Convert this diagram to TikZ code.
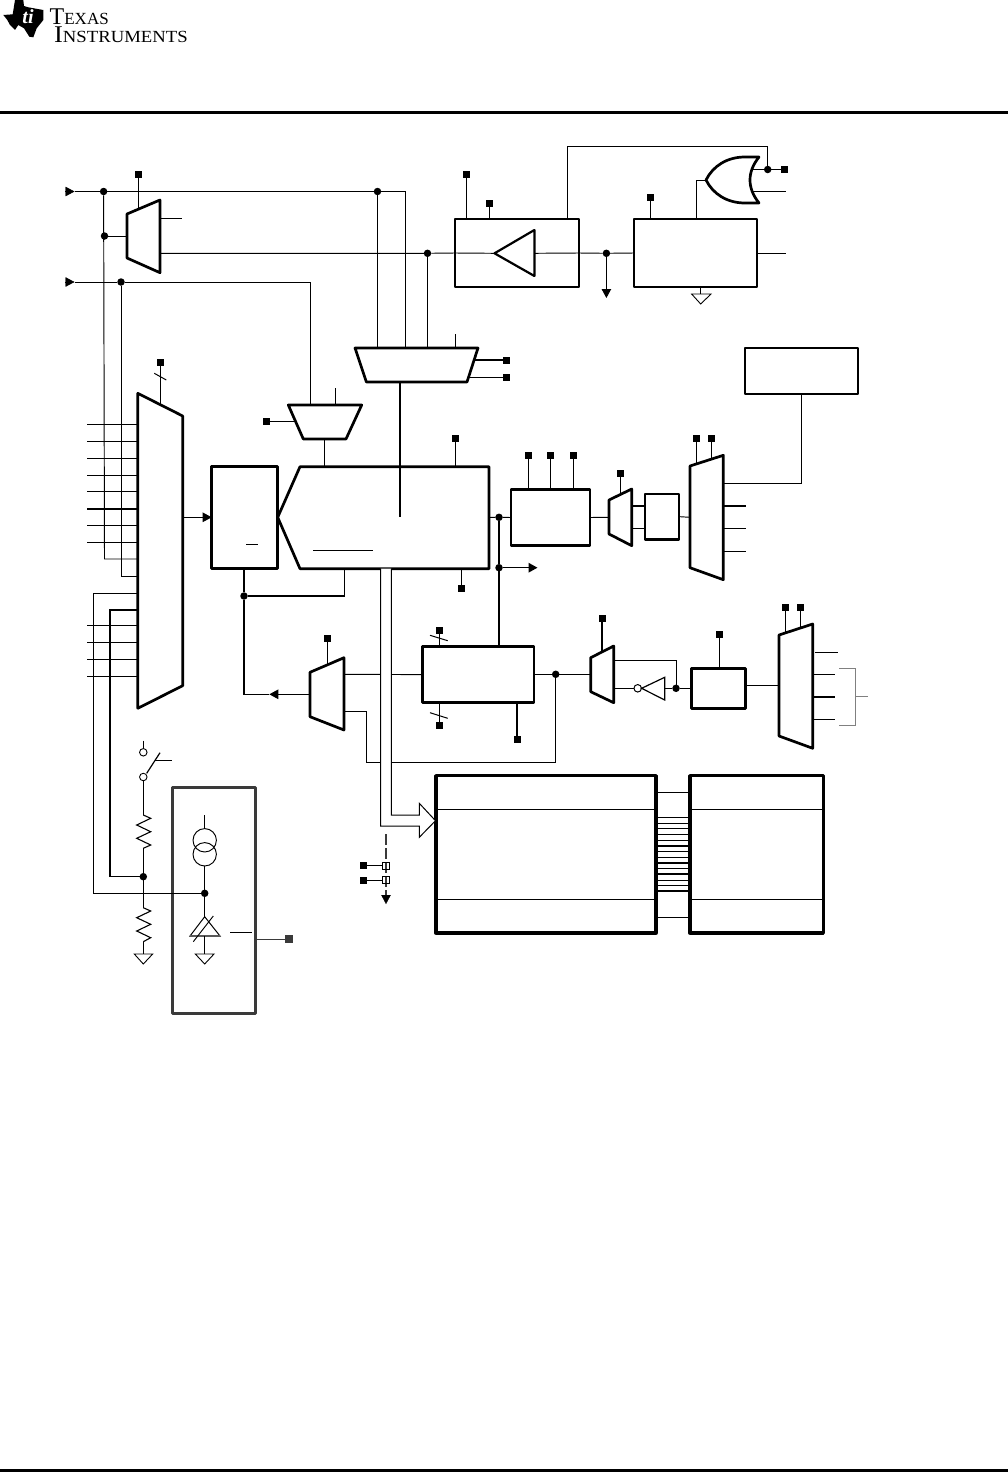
\documentclass[tikz,border=0pt]{standalone}
\usepackage{fontspec}
\usepackage{graphicx}
\setmainfont{Liberation Serif}
\usetikzlibrary{arrows.meta}
\definecolor{dk}{HTML}{3A3A3A}
\tikzset{
  thinw/.style={line width=0.95pt},
  medw/.style={line width=1.5pt},
  heavy/.style={line width=2.7pt,line join=round},
  heavier/.style={line width=3.3pt,line join=round},
  blk/.style={draw,heavy,inner sep=0pt,outer sep=0pt},
  mem/.style={draw,heavier,inner sep=0pt,outer sep=0pt},
  padn/.style={fill=black,inner sep=0pt,outer sep=0pt,minimum width=7pt,minimum height=7pt},
  dot/.style={circle,fill=black,inner sep=0pt,outer sep=0pt,minimum size=7.5pt},
  ring/.style={circle,draw,fill=white,line width=1pt,inner sep=0pt,outer sep=0pt,minimum size=7.5pt},
  tip/.style={-{Triangle[length=9pt,width=9.5pt]}},
  gnd/.style={draw,line width=0.9pt,line join=miter},
}
\newcount\stubn
% \stub[style]{x1}{y1}{x2}{y2}: a short wire with named free ends
\newcommand\stub[5][thinw]{\global\advance\stubn by 1
  \coordinate (s\the\stubn a) at (#2,#3);
  \coordinate (s\the\stubn b) at (#4,#5);
  \draw[#1] (s\the\stubn a) -- (s\the\stubn b);}
% \pad[style]{name}{x}{y}{endx}{endy}
\newcommand\pad[6][thinw]{\node[padn] (#2) at (#3,#4) {};
  \coordinate (#2e) at (#5,#6);
  \draw[#1] (#2) -- (#2e);}
% \bx[style]{name}{x1}{y1}{x2}{y2}
\newcommand\bx[6][blk]{\pgfmathsetmacro\bw{#5-#3}\pgfmathsetmacro\bh{#6-#4}
  \pgfmathsetmacro\bcx{(#3+#5)/2}\pgfmathsetmacro\bcy{(#4+#6)/2}
  \node[#1,minimum width=\bw pt,minimum height=\bh pt] (#2) at (\bcx,\bcy) {};}
\begin{document}
\begin{tikzpicture}[x=1pt,y=-1pt]
\useasboundingbox (0,0) rectangle (1008,1472);
% logo
\fill (3.3,15) -- (12.7,14.3) -- (15,0) -- (23.3,0) -- (24,6) -- (28.3,7.3) -- (43.3,10) -- (43.3,20) -- (36.7,28.3) -- (33.3,37.3) -- (29.3,36.7) -- (24,28.3) -- (18.3,25) -- (15,30) -- (10,25) -- (7.3,20) -- cycle;
\node[white,inner sep=0pt,font=\bfseries\itshape\fontsize{20}{20}\selectfont] (tiglyph) at (28,17) {\textit{ti}};
\node[anchor=base west,inner sep=0pt,font=\fontsize{24}{24}\selectfont] (texas) at (49.5,24.5) {T{\fontsize{17}{17}\selectfont EXAS}};
\node[anchor=base west,inner sep=0pt,font=\fontsize{24}{24}\selectfont] (instr) at (54,43) {\scalebox{1.1}[1]{I{\fontsize{17}{17}\selectfont NSTRUMENTS}}};
\coordinate (ruleL) at (0,112.5); \coordinate (ruleR) at (1008,112.5);
\draw[line width=3pt] (ruleL) -- (ruleR);
\coordinate (footL) at (0,1470.4); \coordinate (footR) at (1008,1470.4);
\draw[line width=3.2pt] (footL) -- (footR);

% ---- blocks
\bx{boxB}{455}{219}{579}{287}
\bx{boxPLL}{634}{219}{757}{287}
\bx{boxD}{745}{348}{858}{394}
\bx{boxG}{211.7}{466.7}{277.7}{568.7}
\bx{boxK}{422.3}{646.5}{534}{702.7}
\bx{boxL}{511}{489.3}{590}{545.7}
\bx{boxN}{645}{494}{679}{539.3}
\bx{boxQ}{691.3}{668.3}{745.7}{708.3}
\bx[mem]{memT}{436}{775.7}{656}{933}
\bx[mem]{memU}{690}{775.7}{823.3}{933}
\bx[blk,draw=dk]{boxS}{172.3}{787.3}{255.7}{1013.7}

% ---- junctions
\node[dot] (jA) at (103.6,191.5) {};
\node[dot] (jB) at (104.5,236) {};
\node[dot] (jC) at (121,282) {};
\node[dot] (jD) at (377.5,191.5) {};
\node[dot] (jE) at (427.5,253.3) {};
\node[dot] (jF) at (606.4,253.3) {};
\node[dot] (jG) at (767.7,169.5) {};
\node[dot] (jH) at (244,596) {};
\node[dot] (jI) at (499,517.3) {};
\node[dot] (jJ) at (499,567.7) {};
\node[dot] (jK) at (555.7,674.3) {};
\node[dot] (jL) at (676,688.3) {};
\node[dot] (jM) at (143.3,876.7) {};
\node[dot] (jN) at (204.7,893.3) {};

% ---- muxes
\coordinate (mAout1) at (160,218.3); \coordinate (mAout2) at (160,253.3); \coordinate (mAin) at (127,236);
\draw[heavy] (127,214) -- (160,200) -- (160,272.7) -- (127,258) -- cycle;
\coordinate (mCi1) at (377.5,348); \coordinate (mCi2) at (405,348); \coordinate (mCi3) at (427.5,348);
\coordinate (mCout) at (400,382);
\draw[heavy] (355,348) -- (478,348) -- (467,382) -- (366.4,382) -- cycle;
\coordinate (mEin) at (310.3,405); \coordinate (mEout) at (324.7,439);
\draw[heavy] (288.3,405) -- (361.7,405) -- (346,439) -- (303.3,439) -- cycle;
\draw[heavy] (137.8,393.3) -- (182.7,416) -- (182.7,685.7) -- (137.8,708.3) -- cycle;
\coordinate (mFl) at (137.8,559); \coordinate (mFr) at (182.7,517.3);
\draw[heavy] (310,672.3) -- (344,657.7) -- (344,730) -- (310,716.7) -- cycle;
\coordinate (mJl) at (310,694.3);
\draw[heavy] (609,500) -- (631.7,489) -- (631.7,545.7) -- (609,534) -- cycle;
\draw[heavy] (690,466) -- (723.3,455.3) -- (723.3,579.7) -- (690,567.7) -- cycle;
\draw[heavy] (590.7,657.7) -- (613.7,646) -- (613.7,702.7) -- (590.7,691.7) -- cycle;
\draw[heavy] (779,635) -- (812.7,624) -- (812.7,748.3) -- (779,736) -- cycle;

% main hexagon
\node[inner sep=0pt,outer sep=0pt] (hexH) at (389,517.3) {};
\coordinate (hTip) at (277.7,517.3);
\draw[heavy] (hTip) -- (300,466.7) -- (489,466.7) -- (489,568.7) -- (300,568.7) -- cycle;
\stub{313.3}{550.3}{372.7}{550.3}
\stub{246}{544.3}{258}{544.3}

% ---- top wires
\coordinate (in1) at (65,191.5); \coordinate (in1b) at (74.5,191.5);
\draw[tip] (in1) -- (in1b);
\draw[thinw] (in1b) -- (jA) -- (jD) -| (mCi2);
\draw[thinw] (jD) -- (mCi1);
\coordinate (in2) at (65,282); \coordinate (in2b) at (74.5,282);
\draw[tip] (in2) -- (in2b);
\draw[thinw] (in2b) -- (jC) -| (mEin);
\draw[thinw] (jA) -- (mFl -| jB) -- (mFl);
\coordinate (mFl2) at (137.8,576);
\draw[thinw] (jC) -- (mFl2 -| jC) -- (mFl2);
\draw[thinw] (jB) -- (mAin);
\stub{160}{218.3}{181.5}{218.3}
\draw[thinw] (mAout2) -- (jE) -- (boxB.west);
\draw[thinw] (jE) -- (mCi3);
\pad{pA}{138}{174.5}{138}{208}
\pad{pC1}{466.8}{174}{466.8}{219}
\pad{pC2}{489.4}{203}{489.4}{219}
\pad{pPLL}{650.3}{197}{650.3}{219}
% buffer triangle
\coordinate (bufIn) at (494.5,253.3); \coordinate (bufOut) at (534.4,253.3);
\draw[heavy,line width=2.2pt] (bufIn) -- (534.4,230) -- (534.4,276) -- cycle;
\draw[thinw] (boxB.west) -- (bufIn);
\draw[thinw] (bufOut) -- (boxB.east) -- (jF) -- (boxPLL.west);
\coordinate (fDown) at (606.4,298);
\draw[thinw,tip] (jF) -- (fDown);
\coordinate (bTop) at (567.5,219);
\draw[thinw] (bTop) |- (567.5,146) -| (jG);
% OR gate
\coordinate (orTip) at (706,180);
\draw[heavy] (orTip) .. controls (713,166) and (727,157) .. (745,157) -- (759,157)
  .. controls (747,172) and (747,188) .. (759,203) -- (745,203)
  .. controls (727,203) and (713,194) .. (orTip) -- cycle;
\coordinate (plTop) at (696,219);
\draw[thinw] (plTop) |- (orTip);
\node[padn] (pOr) at (784.5,169.5) {};
\coordinate (orO1) at (752.5,169.5);
\draw[thinw] (orO1) -- (jG) -- (pOr);
\stub{752.5}{191.5}{785.6}{191.5}
\stub{757}{253.3}{785.6}{253.3}
% ground PLL
\coordinate (gP) at (700.7,294);
\draw[thinw] (boxPLL.south -| gP) -- (gP);
\draw[gnd] (691.6,294) -- (711,294) -- (700.7,304) -- cycle;

% mux C pads
\pad[medw]{pM1}{506}{360}{473}{360}
\pad{pM2}{506}{377}{468}{377}
\stub{455.3}{334}{455.3}{348}
\draw[medw] (mCout) -- (mCout |- hTip -| 400,466.7);
\coordinate (hTop) at (400,466.7);
\draw[medw] (mCout) -- (hTop);
\pad{pE}{266.7}{421.7}{295}{421.7}
\stub{335.3}{388}{335.3}{405}
\coordinate (hTop2) at (324.7,466.7);
\draw[thinw] (mEout) -- (hTop2);

% mux F
\pad[medw]{pF}{160.7}{362.3}{160.7}{404}
\stub[line width=1pt]{154.3}{373.3}{166.3}{380}
\foreach \yy in {424.3,441.3,458.3,475.3,525.3,542.3,625.3,642.3,659.3,676.3}{\stub{87}{\yy}{137.8}{\yy}}
\foreach \yy in {491.7,509}{\stub[medw]{87}{\yy}{137.8}{\yy}}
\coordinate (fa) at (137.8,593.3);
\draw[thinw] (fa) -| (93.7,893.3) -- (jN);
\coordinate (fb) at (137.8,610);
\draw[medw] (fb) -| (110,876.7) -- (jM);
\draw[thinw,tip] (mFr) -- (boxG.west |- mFr);

% G / H links
\coordinate (gb) at (244,568.7);
\draw[medw] (gb) -- (jH);
\coordinate (hB) at (344.7,568.7);
\draw[medw] (jH) -| (hB);
\coordinate (arJ) at (269.3,694.3);
\draw[medw] (jH) |- (arJ);
\draw[tip,thinw] (mJl) -- (arJ);
\pad{pHt}{455.7}{438.7}{455.7}{466.7}
\pad{pHb}{461.7}{588.3}{461.7}{568.7}

% right of H
\coordinate (hR) at (489,517.3);
\draw[thinw] (hR) -- (jI) -- (boxL.west);
\draw[medw] (jI) -- (jJ);
\draw[medw] (jJ) -- (boxK.north -| jJ);
\coordinate (jOut) at (537.5,567.7);
\draw[medw,tip] (jJ) -- (jOut);
\pad[medw]{pL1}{528.3}{455.7}{528.3}{489.3}
\pad{pL2}{550.3}{455.7}{550.3}{489.3}
\pad{pL3}{573}{455.7}{573}{489.3}
\coordinate (mMl) at (609,517.3);
\draw[thinw] (boxL.east) -- (mMl);
\pad{pMM}{620.3}{473.3}{620.3}{494}
\stub[medw]{631.7}{506}{645}{506}
\stub{631.7}{528.7}{645}{528.7}
\coordinate (mOl) at (690,517.3);
\draw[thinw] (boxN.east) -- (mOl);
\pad{pO1}{696.7}{438.3}{696.7}{464}
\pad{pO2}{711.3}{438.3}{711.3}{459.5}
\coordinate (mOr) at (723.3,483.3);
\draw[thinw] (boxD.south) |- (mOr);
\stub[medw]{723.3}{506}{746}{506}
\stub{723.3}{528.7}{746}{528.7}
\stub{723.3}{551.7}{746}{551.7}

% mux J pad and outputs
\pad[medw]{pJ}{327.3}{638.3}{327.3}{665}
\coordinate (jr1) at (344,674.3);
\draw[thinw] (jr1) -- (boxK.west);
\coordinate (jr2) at (344,711.7);
\draw[thinw] (jr2) -| (366.7,762.3) -| (jK);

% box K
\pad{pK1}{439.3}{630}{439.3}{646.5}
\stub[line width=1pt]{430}{635.3}{447.7}{640.7}
\pad{pK2}{439}{725.3}{439}{702.7}
\stub[line width=1pt]{430}{712.7}{447.7}{718.3}
\pad[medw]{pK3}{517}{739.3}{517}{702.7}
\coordinate (mPl) at (590.7,674.3);
\draw[thinw] (boxK.east |- jK) -- (jK) -- (mPl);

% hollow bus arrow
\draw[line width=1pt,fill=white,line join=miter] (380.7,568.7) -- (380.7,826) -- (419.3,826) -- (419.3,837.3) -- (435.5,820.7) -- (419.3,803.3) -- (419.3,815) -- (391.4,815) -- (391.4,568.7);

% mux P
\pad[medw]{pP}{602}{618.3}{602}{651}
\coordinate (pr1) at (613.7,660.3);
\draw[thinw] (pr1) -| (jL);
\coordinate (pr2) at (613.7,688.3);
\node[ring] (bub) at (637.7,688.3) {};
\draw[thinw] (pr2) -- (bub);
\draw[line width=1.2pt,line join=miter] (641.6,688.3) -- (664.7,677.3) -- (664.7,700) -- cycle;
\coordinate (invB) at (664.7,688.3);
\draw[thinw] (invB) -- (jL) -- (boxQ.west |- jL);
\pad{pQ}{719.3}{634}{719.3}{668.3}
\coordinate (mRl) at (779,685.3);
\draw[thinw] (boxQ.east |- mRl) -- (mRl);
\pad{pR1}{785.3}{607.3}{785.3}{633}
\pad{pR2}{800.3}{607.3}{800.3}{628.5}
\stub{815}{652.3}{837.7}{652.3}
\stub{812.7}{674.3}{835}{674.3}
\stub[medw]{812.7}{697}{835}{697}
\stub{812.7}{719.7}{835}{719.7}
\coordinate (brA) at (839.3,668.3); \coordinate (brB) at (839.3,725); \coordinate (brC) at (868.3,696.7); \coordinate (brM) at (855.3,696.7);
\draw[gray,line width=0.95pt] (brA) -| (brM) |- (brB);
\draw[gray,line width=0.95pt] (brM) -- (brC);

% switch & resistors
\stub{143.3}{740.7}{143.3}{748.5}
\node[ring,line width=0.9pt] (swA) at (143.3,752.3) {};
\node[ring,line width=0.9pt] (swB) at (143.3,777) {};
\stub[line width=1.2pt]{146.7}{773.3}{160}{752.7}
\stub[line width=1.3pt]{155}{760.7}{171.7}{760.7}
\coordinate (rA1) at (143.3,815); \coordinate (rA2) at (143.3,848.3);
\draw[thinw] (swB) -- (rA1);
\draw[line width=1.1pt,line join=miter] (rA1) -- (150.7,818.3) -- (136.7,825) -- (150.7,831.7) -- (136.7,838.3) -- (150.7,845) -- (rA2);
\draw[thinw] (rA2) -- (jM);
\coordinate (rB1) at (143.3,907.7); \coordinate (rB2) at (143.3,941.7);
\draw[thinw] (jM) -- (rB1);
\draw[line width=1.1pt,line join=miter] (rB1) -- (150.7,911) -- (136.7,917.7) -- (150.7,924.3) -- (136.7,931) -- (150.7,937.7) -- (rB2);
\coordinate (gA) at (143.3,954);
\draw[thinw] (rB2) -- (gA);
\draw[gnd] (134.3,954) -- (152.7,954) -- (143.3,964) -- cycle;

% inside S
\stub{204.7}{815.3}{204.7}{829}
\node[circle,draw,line width=0.95pt,minimum size=23.4pt,inner sep=0pt,outer sep=0pt] (csA) at (204.7,840.3) {};
\node[circle,draw,line width=0.95pt,minimum size=23.4pt,inner sep=0pt,outer sep=0pt] (csB) at (204.7,854.3) {};
\draw[thinw] (csB.south) -- (jN);
\coordinate (dA) at (204.7,916.7); \coordinate (dB) at (204.7,936); \coordinate (gB) at (204.7,954);
\draw[thinw] (jN) -- (dA);
\draw[line width=1pt,line join=miter] (dA) -- (220,936) -- (190,936) -- cycle;
\draw[medw,gray!70!black] (190,936) -- (220,936);
\stub{193.3}{941.7}{213.3}{916}
\draw[thinw] (dB) -- (gB);
\draw[gnd] (195.3,954) -- (214,954) -- (204.7,964) -- cycle;
\stub{230}{932.3}{252}{932.3}
\node[padn,fill=dk,minimum width=8pt,minimum height=8pt] (pS) at (289,939.3) {};
\coordinate (sR) at (256.7,939.3);
\draw[thinw,dk] (sR) -- (pS);

% dashed drop
\coordinate (dashT) at (386,834); \coordinate (dashB) at (386,896);
\draw[dk,line width=1.4pt,dash pattern=on 11pt off 3pt] (dashT) -- (dashB);
\coordinate (dashTip) at (386,904);
\draw[-{Triangle[length=9pt,width=9.5pt]},line width=0.1pt] (dashB) -- (dashTip);
\node[draw,line width=0.8pt,minimum size=6.5pt,inner sep=0pt,outer sep=0pt] (sq1) at (386,865.7) {};
\node[draw,line width=0.8pt,minimum size=6.5pt,inner sep=0pt,outer sep=0pt] (sq2) at (386,880) {};
\node[padn] (pD1) at (363.3,865.7) {};
\node[padn] (pD2) at (363.3,880) {};
\draw[thinw] (pD1) -- (sq1);
\draw[thinw] (pD2) -- (sq2);

% memory divisions and bus
\foreach \m in {memT,memU}{
  \foreach \yy in {809.3,899.3}{
    \coordinate (l1) at (\m.west |- 0,\yy); \coordinate (l2) at (\m.east |- 0,\yy);
    \draw[thinw] (l1) -- (l2);}}
\foreach \yy in {792.3,823.3,834.3,840,851.7,857.3,868.3,880,885.3,917.3}{
  \coordinate (l1) at (memT.east |- 0,\yy); \coordinate (l2) at (memU.west |- 0,\yy);
  \draw[thinw] (l1) -- (l2);}
\foreach \yy in {817.7,828.7,846,863,874,891}{
  \coordinate (l1) at (memT.east |- 0,\yy); \coordinate (l2) at (memU.west |- 0,\yy);
  \draw[medw] (l1) -- (l2);}
\end{tikzpicture}
\end{document}
